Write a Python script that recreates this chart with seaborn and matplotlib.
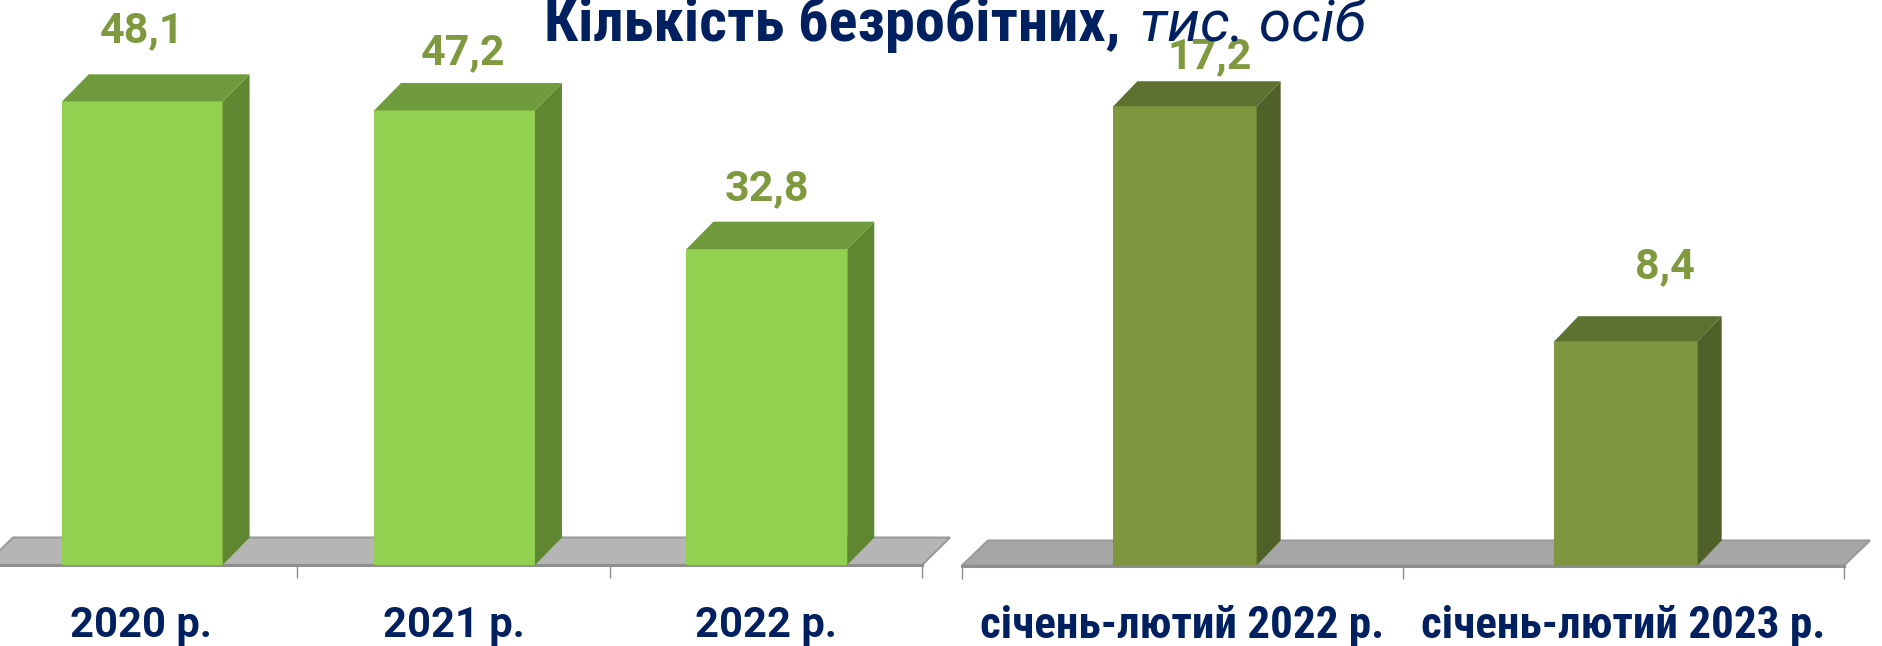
import matplotlib
matplotlib.use("Agg")
import matplotlib.pyplot as plt
from matplotlib.patches import Polygon
import pandas as pd
import seaborn as sns

sns.set_theme(style="white")
plt.rcParams["font.family"] = ["Roboto", "DejaVu Sans"]
COND = ["Roboto Condensed", "DejaVu Sans"]
ROB = ["Roboto", "DejaVu Sans"]

years = ["2020 р.", "2021 р.", "2022 р."]
year_values = [48.1, 47.2, 32.8]
months = ["січень-лютий 2022 р.", "січень-лютий 2023 р."]
month_values = [17.2, 8.4]

NAVY = "#002060"
LABEL = "#7F993F"
W, H = 1882, 646
fig = plt.figure(figsize=(W / 100, H / 100), dpi=100, facecolor="white")


def panel(cats, vals, left, right, base, ppu, bar_w, depth, floor_dx, floor_dy,
          cols, floor_col, offs, tick_fam, tick_size, shift_px):
    ax = fig.add_axes([left / W, 1 - base / H, (right - left) / W, base / H])
    ax.patch.set_alpha(0)
    df = pd.DataFrame({"cat": cats, "val": vals})
    sns.barplot(data=df, x="cat", y="val", ax=ax, color=cols[0], saturation=1,
                width=bar_w, errorbar=None, zorder=3, linewidth=0)
    n = len(cats)
    px_x = (right - left) / n
    s = shift_px / px_x
    ax.set_xlim(-0.5 - s, n - 0.5 - s)
    ax.set_ylim(0, base / ppu)
    ax.set_xlabel("")
    ax.set_ylabel("")
    ax.set_yticks([])
    dx, dy = depth[0] / px_x, depth[1] / ppu
    fx, fy = floor_dx / px_x, floor_dy / ppu
    x0, x1 = -0.5 - s, n - 0.5 - s
    ax.add_patch(Polygon([(x0, 0), (x0 + fx, fy), (x1 + fx, fy), (x1, 0)], closed=True,
                         facecolor=floor_col, edgecolor="#9A9A9A", lw=1.5,
                         zorder=1, clip_on=False))
    for bar, v, (ox, oy) in zip(ax.patches, vals, offs):
        x, w, h = bar.get_x(), bar.get_width(), bar.get_height()
        ax.add_patch(Polygon([(x + w, 0), (x + w + dx, dy), (x + w + dx, h + dy), (x + w, h)],
                             closed=True, facecolor=cols[2], edgecolor="none", zorder=3))
        ax.add_patch(Polygon([(x, h), (x + dx, h + dy), (x + w + dx, h + dy), (x + w, h)],
                             closed=True, facecolor=cols[1], edgecolor="none", zorder=3,
                             clip_on=False))
        ax.annotate(f"{v:.1f}".replace(".", ","), (x + w / 2, h), xytext=(ox, oy),
                    textcoords="offset pixels", ha="center", va="baseline",
                    fontsize=31, fontweight="bold", color=LABEL, zorder=6,
                    annotation_clip=False, fontfamily=ROB)
    for sp in ["top", "left", "right"]:
        ax.spines[sp].set_visible(False)
    ax.spines["bottom"].set_color("#8E8E8E")
    ax.spines["bottom"].set_linewidth(2.2)
    ax.spines["bottom"].set_zorder(2)
    ax.set_xticks([i - s for i in range(n)])
    ax.set_xticklabels(cats, fontsize=tick_size, fontweight="bold", color=NAVY,
                       fontfamily=tick_fam, va="baseline")
    ax.tick_params(axis="x", which="major", length=0, pad=52, bottom=False)
    ax.set_xticks([i - 0.5 - s for i in range(n + 1)], minor=True)
    ax.tick_params(axis="x", which="minor", length=9.5, width=1, color="#8E8E8E", bottom=True)
    return ax


panel(years, year_values, -15, 922, 565, 9.63, 0.515, (27, 27.5), 28, 27.5,
      ("#92D050", "#709B3D", "#5F8631"), "#B5B5B5",
      [(0, 60), (9, 46), (0, 49)], ROB, 30, 1)
panel(months, month_values, 962, 1844, 565.5, 26.7, 0.325, (24, 25), 26, 25,
      ("#7E973F", "#5C7030", "#4F6128"), "#A6A6A6",
      [(25, 38), (39, 63)], COND, 32.5, 2.5)

fig.text(544 / W, 1 - 41 / H, "Кількість безробітних,", fontsize=43.5, fontweight="bold",
         color=NAVY, ha="left", va="baseline", fontfamily=COND, zorder=5)
fig.text(1140 / W, 1 - 41 / H, "тис. осіб", fontsize=42, fontstyle="italic",
         color=NAVY, ha="left", va="baseline", fontfamily=ROB, zorder=5)

fig.savefig("out.png", dpi=100, facecolor="white")
